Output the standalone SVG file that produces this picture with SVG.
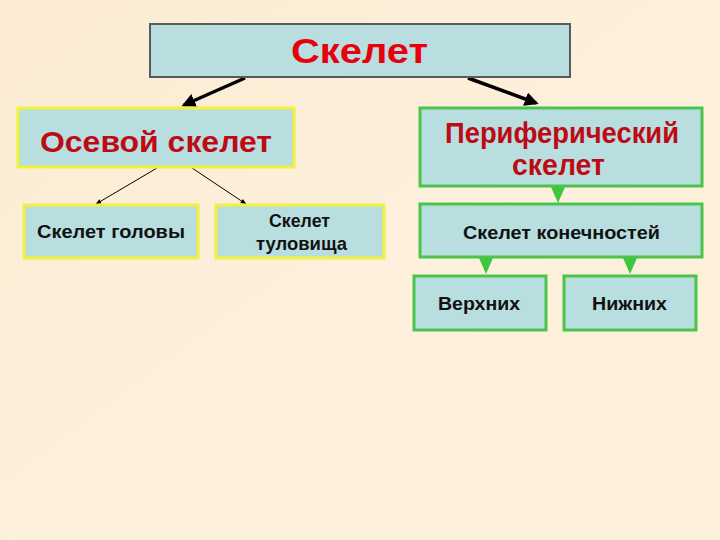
<svg xmlns="http://www.w3.org/2000/svg" width="720" height="540" viewBox="0 0 720 540">
<defs>
<style>
.box{fill:#b8dee0}
.top{stroke:#5a5a5a;stroke-width:2}
.yel{stroke:#f2f23c;stroke-width:3}
.grn{stroke:#4cc44c;stroke-width:3}
text{font-family:"Liberation Sans",Arial,sans-serif;font-weight:bold;text-anchor:middle}
.t1{font-size:35px;fill:#e8000c}
.t2{font-size:30px;fill:#be0a14}
.t3{font-size:19px;fill:#111}
.thick{stroke:#000;stroke-width:3.5;fill:none}
.thin{stroke:#000;stroke-width:1;fill:none}
.tri{fill:#3cc83c}
</style>
<marker id="ah" viewBox="0 0 10 10" refX="8" refY="5" markerWidth="4" markerHeight="4" orient="auto" markerUnits="strokeWidth">
<path d="M0,0 L10,5 L0,10 z" fill="#000"/>
</marker>
<marker id="ahs" viewBox="0 0 10 10" refX="9" refY="5" markerWidth="6" markerHeight="6" orient="auto" markerUnits="strokeWidth">
<path d="M0,1 L10,5 L0,9 z" fill="#000"/>
</marker>
<linearGradient id="bg" x1="0" y1="0" x2="1" y2="1">
<stop offset="0" stop-color="#fbebd2"/>
<stop offset="0.5" stop-color="#fdf0dc"/>
<stop offset="1" stop-color="#fcf0da"/>
</linearGradient>
</defs>
<rect x="0" y="0" width="720" height="540" fill="url(#bg)"/>
<g id="connectors">
<line class="thick" x1="245" y1="78" x2="184" y2="105" marker-end="url(#ah)"/>
<line class="thick" x1="468" y1="78" x2="536" y2="103" marker-end="url(#ah)"/>
<line class="thin" x1="157" y1="168" x2="96" y2="204" marker-end="url(#ahs)"/>
<line class="thin" x1="192" y1="168" x2="246" y2="204" marker-end="url(#ahs)"/>
<polygon class="tri" points="551,187 565,187 558,203"/>
<polygon class="tri" points="479,258 493,258 486,274"/>
<polygon class="tri" points="623,258 637,258 630,274"/>
</g>
<g id="skelet">
<rect class="box top" x="150" y="24" width="420" height="53"/>
<text class="t1" x="359.5" y="63" textLength="137" lengthAdjust="spacingAndGlyphs">Скелет</text>
</g>
<g id="osevoy">
<rect class="box yel" x="18" y="108" width="276" height="59"/>
<text class="t2" x="156" y="152" textLength="232" lengthAdjust="spacingAndGlyphs">Осевой скелет</text>
</g>
<g id="golova">
<rect class="box yel" x="24" y="205" width="174" height="53"/>
<text class="t3" x="111" y="238" textLength="148" lengthAdjust="spacingAndGlyphs">Скелет головы</text>
</g>
<g id="tulovische">
<rect class="box yel" x="216" y="205" width="168" height="53"/>
<text class="t3" x="299.5" y="227" textLength="61" lengthAdjust="spacingAndGlyphs">Скелет</text>
<text class="t3" x="301.5" y="250" textLength="91" lengthAdjust="spacingAndGlyphs">туловища</text>
</g>
<g id="periferich">
<rect class="box grn" x="420" y="108" width="282" height="78"/>
<text class="t2" x="562" y="143" textLength="234" lengthAdjust="spacingAndGlyphs">Периферический</text>
<text class="t2" x="558.5" y="175" textLength="93" lengthAdjust="spacingAndGlyphs">скелет</text>
</g>
<g id="konechnosti">
<rect class="box grn" x="420" y="204" width="282" height="53"/>
<text class="t3" x="561.5" y="239" textLength="197" lengthAdjust="spacingAndGlyphs">Скелет конечностей</text>
</g>
<g id="verhnih">
<rect class="box grn" x="414" y="276" width="132" height="54"/>
<text class="t3" x="479" y="310" textLength="82" lengthAdjust="spacingAndGlyphs">Верхних</text>
</g>
<g id="nizhnih">
<rect class="box grn" x="564" y="276" width="132" height="54"/>
<text class="t3" x="629.5" y="310" textLength="75" lengthAdjust="spacingAndGlyphs">Нижних</text>
</g>
</svg>
